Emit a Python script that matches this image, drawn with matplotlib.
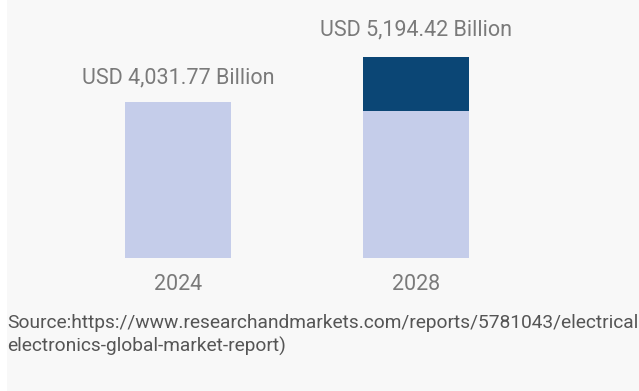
import matplotlib
matplotlib.use("Agg")
import matplotlib.pyplot as plt
from matplotlib.patches import Rectangle

# Market size, USD billion
years = ["2024", "2028"]
base_values = [4031.77, 3800.0]
growth_values = [0.0, 1394.42]
value_labels = ["USD 4,031.77 Billion", "USD 5,194.42 Billion"]
source_lines = [
    "Source:https://www.researchandmarkets.com/reports/5781043/electrical",
    "electronics-global-market-report)",
]

LIGHT = "#c5cdea"
DARK = "#0b4675"
PANEL = "#f8f8f8"
LABEL_GREY = "#7a7a7a"
SOURCE_GREY = "#555555"

plt.rcParams["font.family"] = ["Roboto", "DejaVu Sans"]

W, H, DPI = 639, 391, 100
fig = plt.figure(figsize=(W / DPI, H / DPI), dpi=DPI, facecolor="white")
fig.patches.append(Rectangle((7 / W, 0), 1 - 7 / W, 1, transform=fig.transFigure,
                             facecolor=PANEL, edgecolor="none", zorder=-10))

bottom_px = 391 - 257.7
ax = fig.add_axes([7 / W, bottom_px / H, 1 - 7 / W, 1 - bottom_px / H])
ax.set_facecolor("none")
ax.set_zorder(1)

x = list(range(len(years)))
bar_w = 0.445
ax.bar(x, base_values, width=bar_w, color=LIGHT, zorder=2)
ax.bar(x, growth_values, bottom=base_values, width=bar_w, color=DARK, zorder=2)

ax.set_xlim(-0.7185, 1.937)
ax.set_ylim(0, 6676)

totals = [b + g for b, g in zip(base_values, growth_values)]
label_offsets = [13.2, 15.6]
for xi, tot, txt, off in zip(x, totals, value_labels, label_offsets):
    ax.annotate(txt, xy=(xi, tot), xytext=(0, off), textcoords="offset points",
                ha="center", va="baseline", fontsize=15.5, color=LABEL_GREY)

ax.set_xticks(x)
ax.set_xticklabels(years, fontsize=15.5, color=LABEL_GREY)
ax.tick_params(axis="x", length=0, pad=11.5)
ax.set_yticks([])
for s in ax.spines.values():
    s.set_visible(False)

fig.text(7 / W, 1 - 323 / H, source_lines[0], ha="left", va="center",
         fontsize=13.8, color=SOURCE_GREY)
fig.text(7 / W, 1 - 346 / H, source_lines[1], ha="left", va="center",
         fontsize=13.8, color=SOURCE_GREY)

fig.savefig("out.png", dpi=DPI, facecolor=fig.get_facecolor())
